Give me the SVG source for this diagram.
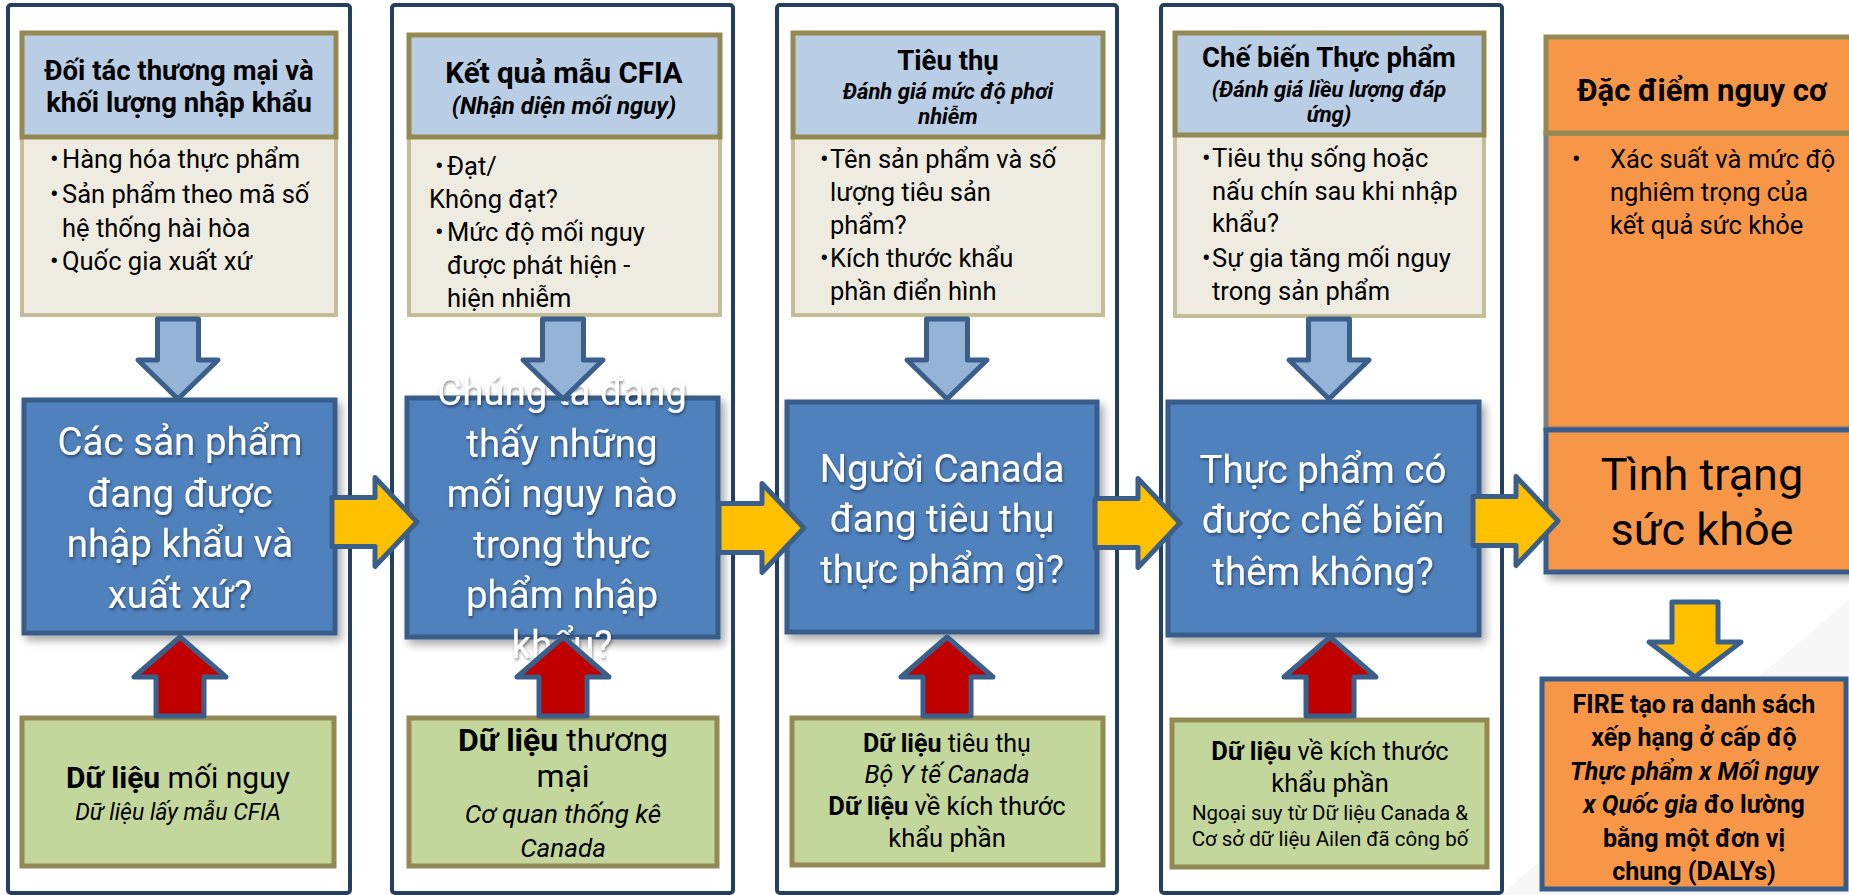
<svg xmlns="http://www.w3.org/2000/svg" xmlns:xlink="http://www.w3.org/1999/xlink" width="1849" height="895" viewBox="0 0 1849 895">
<defs>
<filter id="sh" x="-10%" y="-10%" width="130%" height="130%"><feDropShadow dx="4" dy="5" stdDeviation="4" flood-color="#000" flood-opacity="0.35"/></filter>
<filter id="tsh" x="-10%" y="-20%" width="120%" height="150%"><feDropShadow dx="1" dy="2" stdDeviation="1.5" flood-color="#000" flood-opacity="0.45"/></filter>
<path id="aDown" d="M-20.5,319 H20.5 V360 H40 L0,399 L-40,360 H-20.5 Z"/>
<path id="aUp" d="M-24,716 V677 H-46 L0,637 L46,677 H24 V716 Z"/>
<path id="aRight" d="M-85,-24.5 H-42 V-44.5 L0,0 L-42,44.5 V24.5 H-85 Z"/>
</defs>
<style>
text{font-family:Roboto,"Noto Sans","DejaVu Sans",sans-serif;fill:#000}
.frame{fill:#fff;stroke:#243f60;stroke-width:4}
.hdr{fill:#b9cde5;stroke:#938953;stroke-width:5}
.body{fill:#eeece1;stroke:#c4bd97;stroke-width:4}
.q{fill:#4f81bd;stroke:#385d8a;stroke-width:5;filter:url(#sh)}
.qt{fill:#fff;font-size:38.5px;text-anchor:middle;filter:url(#tsh)}
.grn{fill:#c3d69b;stroke:#938953;stroke-width:5}
.or{fill:#f79646}
.ht{font-size:27.5px;font-weight:bold;text-anchor:middle}
.hs{font-size:22px;font-weight:bold;font-style:italic;text-anchor:middle}
.bt{font-size:25.5px}
.c{text-anchor:middle}
.b{font-weight:bold}
.i{font-style:italic}
.lb{fill:#95b3d7;stroke:#3a5f8b;stroke-width:5;stroke-linejoin:round}
.rd{fill:#c00000;stroke:#3a5f8b;stroke-width:5;stroke-linejoin:round}
.yl{fill:#ffc000;stroke:#3a5f8b;stroke-width:5;stroke-linejoin:round}
</style>
<rect width="1849" height="895" fill="#fff"/>
<polygon points="1500,895 1849,600 1849,895" fill="#f7f7f7"/>

<g id="col1">
<rect class="frame" x="8" y="5" width="342" height="888" rx="3"/>
<rect class="body" x="22" y="137" width="314" height="178"/>
<rect class="hdr" x="22" y="33" width="314" height="104"/>
<text class="ht" x="179" y="80">Đối tác thương mại và</text>
<text class="ht" x="179" y="112">khối lượng nhập khẩu</text>
<text class="bt" x="50" y="168">•</text><text class="bt" x="62" y="168">Hàng hóa thực phẩm</text>
<text class="bt" x="50" y="203">•</text><text class="bt" x="62" y="203">Sản phẩm theo mã số</text>
<text class="bt" x="62" y="237">hệ thống hài hòa</text>
<text class="bt" x="50" y="270">•</text><text class="bt" x="62" y="270">Quốc gia xuất xứ</text>
</g>

<g id="col2">
<rect class="frame" x="392" y="5" width="341" height="888" rx="3"/>
<rect class="body" x="409" y="137" width="311" height="178"/>
<rect class="hdr" x="409" y="35" width="311" height="102"/>
<text class="ht" x="564" y="83" style="font-size:29.5px">Kết quả mẫu CFIA</text>
<text class="hs" x="564" y="114" style="font-size:24px">(Nhận diện mối nguy)</text>
<text class="bt" x="435" y="175">•</text><text class="bt" x="447" y="175">Đạt/</text>
<text class="bt" x="429" y="208">Không đạt?</text>
<text class="bt" x="435" y="241">•</text><text class="bt" x="447" y="241">Mức độ mối nguy</text>
<text class="bt" x="447" y="274">được phát hiện -</text>
<text class="bt" x="447" y="307">hiện nhiễm</text>
</g>

<g id="col3">
<rect class="frame" x="777" y="5" width="340" height="888" rx="3"/>
<rect class="body" x="793" y="137" width="310" height="178"/>
<rect class="hdr" x="793" y="33" width="310" height="104"/>
<text class="ht" x="948" y="70">Tiêu thụ</text>
<text class="hs" x="948" y="99">Đánh giá mức độ phơi</text>
<text class="hs" x="948" y="124">nhiễm</text>
<text class="bt" x="820" y="168">•</text><text class="bt" x="830" y="168">Tên sản phẩm và số</text>
<text class="bt" x="830" y="201">lượng tiêu sản</text>
<text class="bt" x="830" y="234">phẩm?</text>
<text class="bt" x="820" y="267">•</text><text class="bt" x="830" y="267">Kích thước khẩu</text>
<text class="bt" x="830" y="300">phần điển hình</text>
</g>

<g id="col4">
<rect class="frame" x="1161" y="5" width="341" height="888" rx="3"/>
<rect class="body" x="1175" y="135" width="309" height="181"/>
<rect class="hdr" x="1175" y="33" width="309" height="102"/>
<text class="ht" x="1329" y="67">Chế biến Thực phẩm</text>
<text class="hs" x="1329" y="97">(Đánh giá liều lượng đáp</text>
<text class="hs" x="1329" y="122">ứng)</text>
<text class="bt" x="1202" y="167">•</text><text class="bt" x="1212" y="167">Tiêu thụ sống hoặc</text>
<text class="bt" x="1212" y="200">nấu chín sau khi nhập</text>
<text class="bt" x="1212" y="232">khẩu?</text>
<text class="bt" x="1202" y="267">•</text><text class="bt" x="1212" y="267">Sự gia tăng mối nguy</text>
<text class="bt" x="1212" y="300">trong sản phẩm</text>
</g>

<g id="q1">
<rect class="q" x="24" y="400" width="311" height="233"/>
<text class="qt" x="180" y="455">Các sản phẩm</text>
<text class="qt" x="180" y="507">đang được</text>
<text class="qt" x="180" y="557">nhập khẩu và</text>
<text class="qt" x="180" y="608">xuất xứ?</text>
</g>
<g id="q2">
<rect class="q" x="407" y="398" width="311" height="239"/>
<text class="qt" x="562" y="405">Chúng ta đang</text>
<text class="qt" x="562" y="457">thấy những</text>
<text class="qt" x="562" y="507">mối nguy nào</text>
<text class="qt" x="562" y="558">trong thực</text>
<text class="qt" x="562" y="608">phẩm nhập</text>
<text class="qt" x="562" y="658">khẩu?</text>
</g>
<g id="q3">
<rect class="q" x="787" y="402" width="310" height="230"/>
<text class="qt" x="942" y="482">Người Canada</text>
<text class="qt" x="942" y="532">đang tiêu thụ</text>
<text class="qt" x="942" y="583">thực phẩm gì?</text>
</g>
<g id="q4">
<rect class="q" x="1168" y="402" width="311" height="233"/>
<text class="qt" x="1323" y="483">Thực phẩm có</text>
<text class="qt" x="1323" y="533">được chế biến</text>
<text class="qt" x="1323" y="585">thêm không?</text>
</g>

<g id="d1">
<rect class="grn" x="22" y="718" width="312" height="148"/>
<text class="c" x="178" y="788" font-size="30"><tspan class="b">Dữ liệu</tspan> mối nguy</text>
<text class="c i" x="178" y="820" font-size="23">Dữ liệu lấy mẫu CFIA</text>
</g>
<g id="d2">
<rect class="grn" x="409" y="718" width="308" height="148"/>
<text class="c" x="563" y="751" font-size="32"><tspan class="b">Dữ liệu</tspan> thương</text>
<text class="c" x="563" y="787" font-size="32">mại</text>
<text class="c i" x="563" y="823" font-size="26">Cơ quan thống kê</text>
<text class="c i" x="563" y="857" font-size="26">Canada</text>
</g>
<g id="d3">
<rect class="grn" x="792" y="718" width="311" height="147"/>
<text class="c" x="947" y="752" font-size="25"><tspan class="b">Dữ liệu</tspan> tiêu thụ</text>
<text class="c i" x="947" y="783" font-size="25">Bộ Y tế Canada</text>
<text class="c" x="947" y="815" font-size="25.5"><tspan class="b">Dữ liệu</tspan> về kích thước</text>
<text class="c" x="947" y="847" font-size="25.5">khẩu phần</text>
</g>
<g id="d4">
<rect class="grn" x="1172" y="720" width="315" height="147"/>
<text class="c" x="1330" y="760" font-size="25.5"><tspan class="b">Dữ liệu</tspan> về kích thước</text>
<text class="c" x="1330" y="792" font-size="25.5">khẩu phần</text>
<text class="c" x="1330" y="820" font-size="20.5">Ngoại suy từ Dữ liệu Canada &amp;</text>
<text class="c" x="1330" y="846" font-size="20.5">Cơ sở dữ liệu Ailen đã công bố</text>
</g>

<g id="risk">
<rect class="or" x="1546" y="133" width="320" height="296" stroke="#7f7f7f" stroke-width="5"/>
<rect class="or" x="1546" y="37" width="320" height="96" stroke="#938953" stroke-width="5"/>
<text class="c b" x="1702" y="101" font-size="31">Đặc điểm nguy cơ</text>
<text class="bt" x="1572" y="168">•</text>
<text class="bt" x="1610" y="168">Xác suất và mức độ</text>
<text class="bt" x="1610" y="201">nghiêm trọng của</text>
<text class="bt" x="1610" y="234">kết quả sức khỏe</text>
</g>
<g id="health">
<rect class="or" x="1546" y="430" width="320" height="142" stroke="#385d8a" stroke-width="5" filter="url(#sh)"/>
<text class="c" x="1702" y="490" font-size="45">Tình trạng</text>
<text class="c" x="1702" y="545" font-size="45">sức khỏe</text>
</g>
<g id="fire">
<rect class="or" x="1542" y="679" width="304" height="210" stroke="#385d8a" stroke-width="5"/>
<text class="c b" x="1694" y="713" font-size="25">FIRE tạo ra danh sách</text>
<text class="c b" x="1694" y="746" font-size="25">xếp hạng ở cấp độ</text>
<text class="c b i" x="1694" y="780" font-size="25">Thực phẩm x Mối nguy</text>
<text class="c b" x="1694" y="813" font-size="25"><tspan class="i">x Quốc gia</tspan> đo lường</text>
<text class="c b" x="1694" y="847" font-size="25">bằng một đơn vị</text>
<text class="c b" x="1694" y="880" font-size="25">chung (DALYs)</text>
</g>

<g id="connectors">
<use href="#aDown" class="lb" x="178" y="0"/>
<use href="#aDown" class="lb" x="563" y="0"/>
<use href="#aDown" class="lb" x="947" y="0"/>
<use href="#aDown" class="lb" x="1329" y="0"/>
<use href="#aUp" class="rd" x="180" y="0"/>
<use href="#aUp" class="rd" x="563" y="0"/>
<use href="#aUp" class="rd" x="947" y="0"/>
<use href="#aUp" class="rd" x="1330" y="0"/>
<use href="#aRight" class="yl" x="417" y="522"/>
<use href="#aRight" class="yl" x="804" y="528"/>
<use href="#aRight" class="yl" x="1180" y="523"/>
<use href="#aRight" class="yl" x="1558" y="521"/>
<path class="yl" d="M1672,602 H1718 V642 H1741 L1695,677 L1649,642 H1672 Z"/>
</g>
</svg>
